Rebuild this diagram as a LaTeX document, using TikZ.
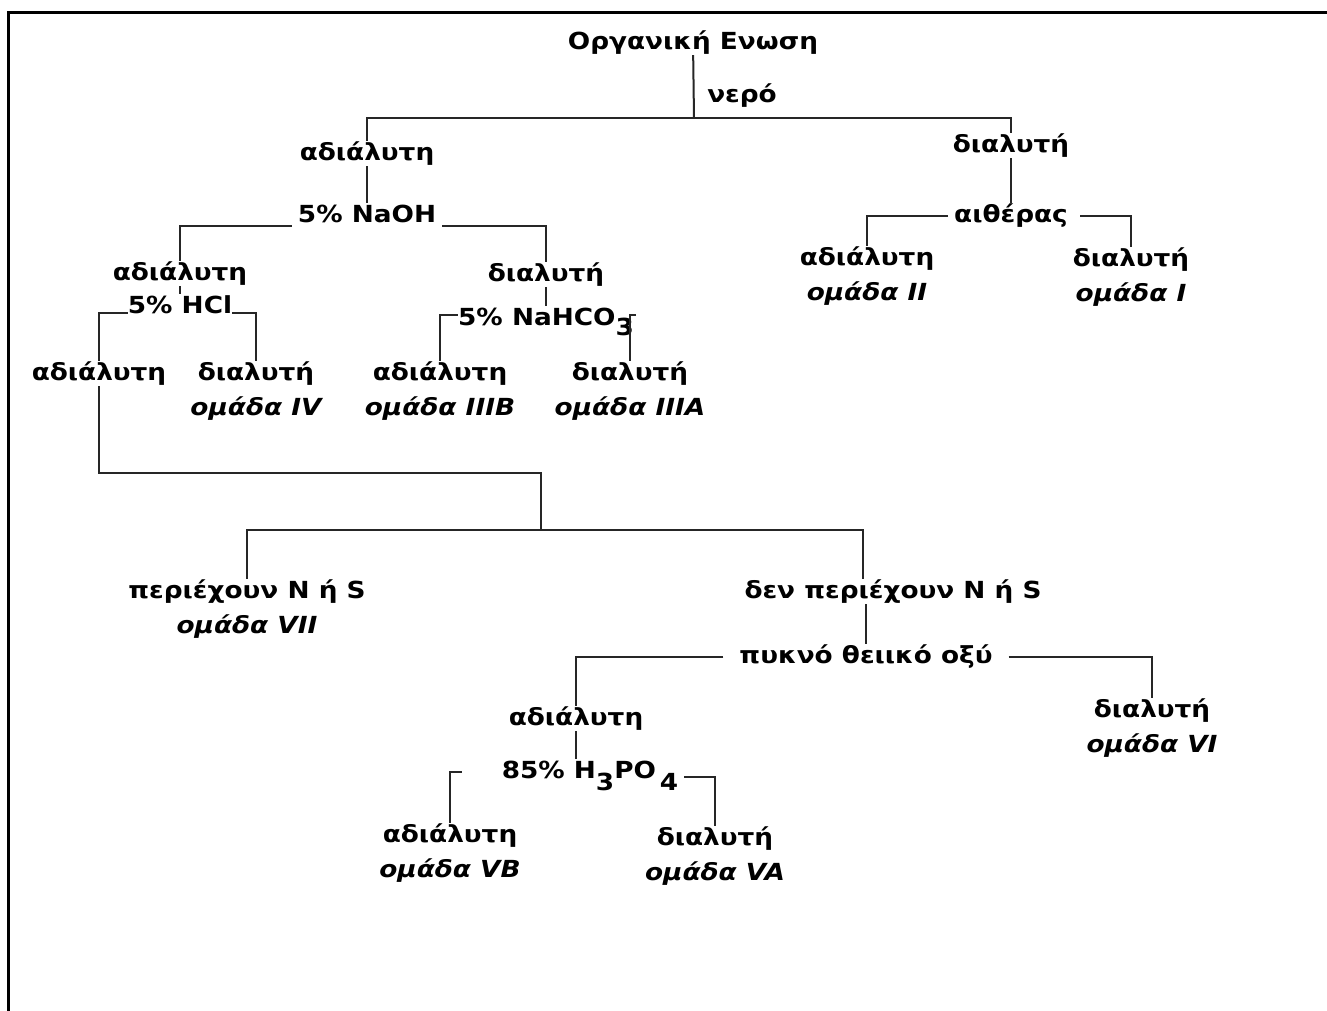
\documentclass[tikz,border=0pt]{standalone}
\usepackage{fontspec}
\setmainfont{DejaVu Sans}[FakeStretch=1.12]

\begin{document}
\begin{tikzpicture}[x=1pt, y=-1pt, node distance=35pt, font=\fontsize{23.5}{28}\selectfont\bfseries]
    \tikzset{lbl/.style={inner xsep=6pt, inner ysep=1pt, text height=18pt, text depth=5pt, anchor=base},
             grp/.style={lbl, font=\fontsize{23.5}{28}\selectfont\bfseries\itshape},
             link/.style={draw=black!85, line width=2pt}}
    \useasboundingbox (0,0) rectangle (1327,1010);
    \draw[line width=3pt] (8,1012) -- (8,12) -- (1327,12);
    % upper part
    \node[lbl] (root)     at (693,49)   {Οργανική Ενωση};
    \node[lbl] (water)    at (742,102)  {νερό};
    \node[lbl] (ins1)     at (367,160)  {αδιάλυτη};
    \node[lbl] (sol1)     at (1011,152) {διαλυτή};
    \node[lbl] (naoh)     at (367,222)  {5\% NaOH};
    \node[lbl] (ether)    at (1011,222) {αιθέρας};
    \node[lbl] (etherins) at (867,265)  {αδιάλυτη};
    \node[grp] (g2)       [below of=etherins] {ομάδα II};
    \node[lbl] (ethersol) at (1131,266) {διαλυτή};
    \node[grp] (g1)       [below of=ethersol] {ομάδα I};
    \node[lbl] (ins2)     at (180,280)  {αδιάλυτη};
    \node[lbl] (sol2)     at (546,281)  {διαλυτή};
    \node[lbl] (hcl)      at (180,313)  {5\% HCl};
    \node[lbl] (nahco)    at (546,325)  {5\% NaHCO\raisebox{-10pt}{3}};
    \node[lbl] (ins3)     at (99,380)   {αδιάλυτη};
    \node[lbl] (sol3)     at (256,380)  {διαλυτή};
    \node[grp] (g4)       [below of=sol3] {ομάδα IV};
    \node[lbl] (ins4)     at (440,380)  {αδιάλυτη};
    \node[grp] (g3b)      [below of=ins4] {ομάδα IIIB};
    \node[lbl] (sol4)     at (630,380)  {διαλυτή};
    \node[grp] (g3a)      [below of=sol4] {ομάδα IIIA};
    % lower part
    \node[lbl] (withns)   at (247,598)  {περιέχουν N ή S};
    \node[grp] (g7)       [below of=withns] {ομάδα VII};
    \node[lbl] (nons)     at (893,598)  {δεν περιέχουν N ή S};
    \node[lbl] (h2so4)    at (866,663)  {πυκνό θειικό οξύ};
    \node[lbl] (ins5)     at (576,725)  {αδιάλυτη};
    \node[lbl] (sol5)     at (1152,717) {διαλυτή};
    \node[grp] (g6)       [below of=sol5] {ομάδα VI};
    \node[lbl] (h3po4)    at (590,778)  {85\% H\raisebox{-12pt}{3}PO\,\raisebox{-12pt}{4}};
    \node[lbl] (ins6)     at (450,842)  {αδιάλυτη};
    \node[grp] (g5b)      [below of=ins6] {ομάδα VB};
    \node[lbl] (sol6)     at (715,845)  {διαλυτή};
    \node[grp] (g5a)      [below of=sol6] {ομάδα VA};
    \coordinate (w)  at (694,118);
    \coordinate (j0) at (541,473);
    \coordinate (j1) at (541,530);
    \draw[link] (root) -- (w);
    \draw[link] (ins1) |- (w) -| (sol1);
    \draw[link] (ins1) -- (naoh);
    \draw[link] (sol1) -- (ether);
    \draw[link] ([yshift=-4pt]naoh.base west) -| (ins2);
    \draw[link] ([yshift=-4pt]naoh.base east) -| (sol2);
    \draw[link] (ether.west) -| (etherins);
    \draw[link] ([xshift=6pt]ether.east) -| (ethersol);
    \draw[link] (ins2) -- (hcl);
    \draw[link] ([xshift=6pt]hcl.base west) -| (ins3);
    \draw[link] ([xshift=-6pt]hcl.base east) -| (sol3);
    \draw[link] (sol2) -- (nahco);
    \draw[link] ([xshift=6pt,yshift=4pt]nahco.west) -| (ins4);
    \draw[link] ([xshift=-4pt,yshift=4pt]nahco.east) -| (sol4);
    \draw[link] (ins3) |- (j0) -- (j1);
    \draw[link] (withns) |- (j1) -| ([xshift=-30pt]nons.north);
    \draw[link] (h2so4) -- (h2so4 |- nons.south);
    \draw[link] ([xshift=-10pt]h2so4.west) -| (ins5);
    \draw[link] ([xshift=10pt]h2so4.east) -| (sol5);
    \draw[link] (ins5) -- (ins5 |- h3po4.north);
    \draw[link] ([xshift=-34pt]h3po4.west) -| (ins6);
    \draw[link] ([yshift=-5pt]h3po4.east) -| (sol6);
\end{tikzpicture}
\end{document}
